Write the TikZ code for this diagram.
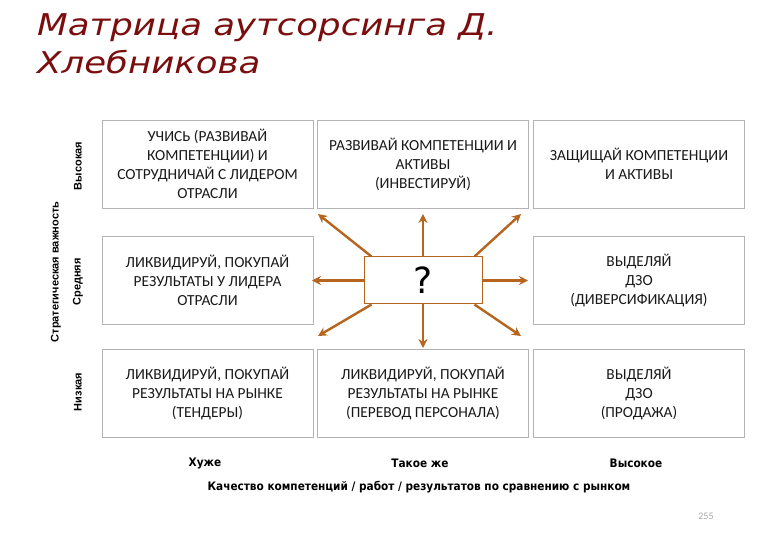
\documentclass[tikz,border=0pt]{standalone}
\usepackage{fontspec}
\setmainfont{Carlito}
\newfontfamily\titlefont{DejaVu Sans}
\newfontfamily\condfont{DejaVu Sans Condensed}
\newfontfamily\vfont{Liberation Sans}
\usetikzlibrary{arrows.meta,calc}
\definecolor{titlered}{HTML}{7A0E0E}
\definecolor{arrbrown}{HTML}{B5651D}
\definecolor{boxgray}{HTML}{B3B3B3}
\begin{document}
\begin{tikzpicture}[x=1pt,y=-1pt,
  cell/.style={draw=boxgray,line width=0.9pt,minimum width=211pt,minimum height=88pt,
    align=center,inner sep=2pt,text=black!90,font=\fontsize{15.4}{19}\selectfont},
  axlab/.style={font=\condfont\bfseries\fontsize{11.7}{13}\selectfont},
  vlab/.style={font=\vfont\bfseries\fontsize{11}{12}\selectfont,rotate=90},
  ttl/.style={anchor=base west,inner sep=0pt,text=titlered,
    font=\titlefont\itshape\fontsize{30}{36}\selectfont},
  arr/.style={draw=arrbrown,line width=2.4pt,-{Stealth[length=9pt,width=9pt,inset=3pt]}}]
\useasboundingbox (0,0) rectangle (780,540);
% title
\node[ttl] (title1) at (37,36) {\scalebox{1.185}[1]{Матрица аутсорсинга Д.}};
\node[ttl] (title2) at (37,74) {\scalebox{1.185}[1]{Хлебникова}};
% cells
\node[cell] (c11) at (207.5,164) {УЧИСЬ (РАЗВИВАЙ\\КОМПЕТЕНЦИИ) И\\СОТРУДНИЧАЙ С ЛИДЕРОМ\\ОТРАСЛИ};
\node[cell] (c12) at (423,164) {РАЗВИВАЙ КОМПЕТЕНЦИИ И\\АКТИВЫ\\(ИНВЕСТИРУЙ)};
\node[cell] (c13) at (639,164) {ЗАЩИЩАЙ КОМПЕТЕНЦИИ\\И АКТИВЫ};
\node[cell] (c21) at (207.5,280.5) {ЛИКВИДИРУЙ, ПОКУПАЙ\\РЕЗУЛЬТАТЫ У ЛИДЕРА\\ОТРАСЛИ};
\node[cell] (c23) at (639,280.5) {ВЫДЕЛЯЙ\\ДЗО\\(ДИВЕРСИФИКАЦИЯ)};
\node[cell] (c31) at (207.5,393) {ЛИКВИДИРУЙ, ПОКУПАЙ\\РЕЗУЛЬТАТЫ НА РЫНКЕ\\(ТЕНДЕРЫ)};
\node[cell] (c32) at (423,393) {ЛИКВИДИРУЙ, ПОКУПАЙ\\РЕЗУЛЬТАТЫ НА РЫНКЕ\\(ПЕРЕВОД ПЕРСОНАЛА)};
\node[cell] (c33) at (639,393) {ВЫДЕЛЯЙ\\ДЗО\\(ПРОДАЖА)};
% center
\node[draw=arrbrown,line width=1pt,fill=white,minimum width=118pt,minimum height=47pt,
  inner sep=0pt,font=\titlefont\fontsize{36}{36}\selectfont] (q) at (423,280.5) {?};
\coordinate (tN) at (423,214);
\coordinate (tS) at (423,348);
\coordinate (tW) at (312,280.5);
\coordinate (tE) at (528,280.5);
\coordinate (tNW) at (318,214);
\coordinate (tNE) at (521,214);
\coordinate (tSW) at (318,336);
\coordinate (tSE) at (521,336);
\draw[arr] (q.north) -- (tN);
\draw[arr] (q.south) -- (tS);
\draw[arr] (q.west) -- (tW);
\draw[arr] (q.east) -- (tE);
\draw[arr] ($(q.north west)+(8,0)$) -- (tNW);
\draw[arr] ($(q.north east)+(-8,0)$) -- (tNE);
\draw[arr] ($(q.south west)+(8,0)$) -- (tSW);
\draw[arr] ($(q.south east)+(-8,0)$) -- (tSE);
% axis labels
\node[vlab] (vh) at (78,166) {Высокая};
\node[vlab] (vm) at (78,282) {Средняя};
\node[vlab] (vl) at (78,392) {Низкая};
\node[vlab] (vax) at (56,272) {Стратегическая важность};
\node[axlab] (hw) at (205,463) {Хуже};
\node[axlab] (hs) at (420,463) {Такое же};
\node[axlab] (hb) at (636,463) {Высокое};
\node[axlab] (hax) at (419,487) {Качество компетенций / работ / результатов по сравнению с рынком};
\node[text=gray!70,font=\fontsize{10}{11}\selectfont] (pg) at (706,516) {255};
\end{tikzpicture}
\end{document}
